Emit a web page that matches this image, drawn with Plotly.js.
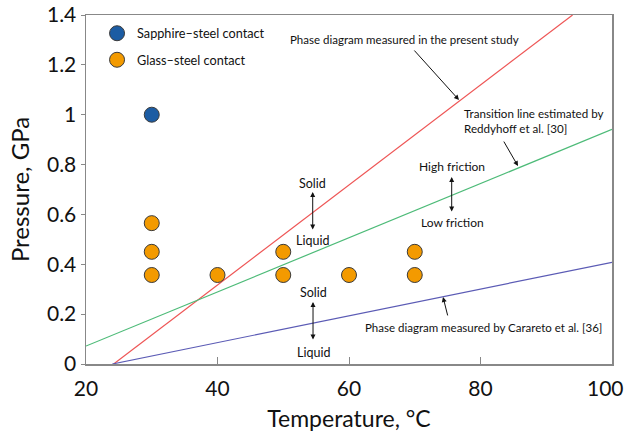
<!DOCTYPE html>
<html>
<head>
<meta charset="utf-8">
<script src="https://cdn.plot.ly/plotly-3.0.1.min.js"></script>
<style>html,body{margin:0;padding:0;background:#fff}#chart{width:627px;height:440px}</style>
</head>
<body>
<div id="chart"></div>
<script>
// Data
var sapphireT = [30];
var sapphireP = [1.0];
var glassT = [30, 30, 30, 40, 50, 50, 60, 70, 70];
var glassP = [0.357, 0.45, 0.565, 0.357, 0.357, 0.45, 0.357, 0.357, 0.45];
var presentLineT = [24.2, 94.0];
var presentLineP = [0, 1.4];
var reddyhoffLineT = [20, 100];
var reddyhoffLineP = [0.072, 0.941];
var cararetoLineT = [24.0, 100];
var cararetoLineP = [0, 0.408];
var xTicks = [20, 40, 60, 80, 100];
var xTickText = ['20', '40', '60', '80', ''];   // "100" drawn as an edge-aligned label below
var lastXTick = '100';
var yTicks = [0, 0.2, 0.4, 0.6, 0.8, 1, 1.2, 1.4];
var yTickText = ['0', '0.2', '0.4', '0.6', '0.8', '1', '1.2', '1.4'];

var FONT = 'Lato, "Open Sans", sans-serif';
var txtCol = '#111';

var traces = [
  {x: presentLineT, y: presentLineP, mode: 'lines', line: {color: '#ee5555', width: 1.2}, showlegend: false, hoverinfo: 'skip'},
  {x: reddyhoffLineT, y: reddyhoffLineP, mode: 'lines', line: {color: '#4dbb78', width: 1.2}, showlegend: false, hoverinfo: 'skip'},
  {x: cararetoLineT, y: cararetoLineP, mode: 'lines', line: {color: '#5b5bb5', width: 1.2}, showlegend: false, hoverinfo: 'skip'},
  {x: sapphireT, y: sapphireP, mode: 'markers', name: 'Sapphire\u2013steel contact', legendgroup: 'a',
   marker: {size: 15, color: '#1c5ca3', line: {color: '#3a3a3a', width: 1}}},
  {x: glassT, y: glassP, mode: 'markers', name: 'Glass\u2013steel contact', legendgroup: 'b',
   marker: {size: 15, color: '#f39a00', line: {color: '#3a3a3a', width: 1}}}
];

function lbl(x, y, text, size, anchor) {
  return {x: x, y: y, xref: 'x', yref: 'y', text: text, showarrow: false,
    xanchor: anchor || 'center', yanchor: 'middle', align: anchor || 'center',
    font: {family: FONT, size: size, color: txtCol}};
}
function arr(x, y, ax, ay, both) {
  return {x: x, y: y, xref: 'x', yref: 'y', ax: ax, ay: ay, text: '', showarrow: true,
    arrowhead: 2, arrowsize: 1, arrowwidth: 1, arrowcolor: '#111',
    startarrowhead: 2, startarrowsize: 1, arrowside: both ? 'end+start' : 'end', standoff: 0, startstandoff: 0};
}

var annotations = [
  lbl(68.4, 1.30, 'Phase diagram measured in the present study', 11.5),
  arr(76.73, 1.059, -46, -51, false),
  lbl(77.19, 0.973, 'Transition line estimated by<br>Reddyhoff et al. [30]', 11.6, 'left'),
  arr(85.7, 0.794, -15, -26, false),
  lbl(80.38, 0.148, 'Phase diagram measured by Carareto et al. [36]', 11.5),
  arr(74.3, 0.269, 5, 20, false),
  lbl(54.48, 0.726, 'Solid', 12.5),
  arr(54.48, 0.690, 0, 39, true),
  lbl(54.4, 0.497, 'Liquid', 12.5),
  lbl(75.62, 0.794, 'High friction', 12),
  arr(75.62, 0.750, 0, 36, true),
  lbl(75.7, 0.566, 'Low friction', 12),
  lbl(54.53, 0.285, 'Solid', 12.5),
  arr(54.53, 0.2487, 0, 39, true),
  lbl(54.53, 0.048, 'Liquid', 12.5),
  {x: 1, y: 0, xref: 'paper', yref: 'paper', text: lastXTick, showarrow: false,
   xanchor: 'right', yanchor: 'middle', xshift: 14, yshift: -23,
   font: {family: FONT, size: 21, color: txtCol}}
];

var layout = {
  width: 627, height: 440,
  margin: {l: 86, r: 15, t: 15, b: 76},
  paper_bgcolor: '#fff', plot_bgcolor: '#fff',
  font: {family: FONT, color: txtCol},
  showlegend: true,
  legend: {x: 0.021, y: 0.99, xanchor: 'left', yanchor: 'top', bgcolor: 'rgba(0,0,0,0)',
    font: {family: FONT, size: 12.7, color: txtCol}, tracegroupgap: 7, traceorder: 'grouped'},
  xaxis: {range: [20, 100], tickvals: xTicks, ticktext: xTickText, ticks: 'inside', ticklen: 7,
    tickcolor: '#888', showline: true, linecolor: '#888', linewidth: 1.5, mirror: true, showgrid: false, zeroline: false,
    ticklabeloverflow: 'allow', ticklabelstandoff: 5,
    tickfont: {family: FONT, size: 21, color: txtCol},
    title: {text: 'Temperature, \u00b0C', font: {family: FONT, size: 23, color: txtCol}, standoff: 12}},
  yaxis: {range: [0, 1.4], tickvals: yTicks, ticktext: yTickText, ticks: 'outside', ticklen: 4,
    tickcolor: '#888', showline: true, linecolor: '#888', linewidth: 1.5, mirror: true, showgrid: false, zeroline: false,
    ticklabeloverflow: 'allow',
    tickfont: {family: FONT, size: 21, color: txtCol},
    title: {text: 'Pressure, GPa', font: {family: FONT, size: 24, color: txtCol}, standoff: 10}},
  annotations: annotations
};

Plotly.newPlot('chart', traces, layout, {displayModeBar: false, staticPlot: true});
</script>
</body>
</html>
